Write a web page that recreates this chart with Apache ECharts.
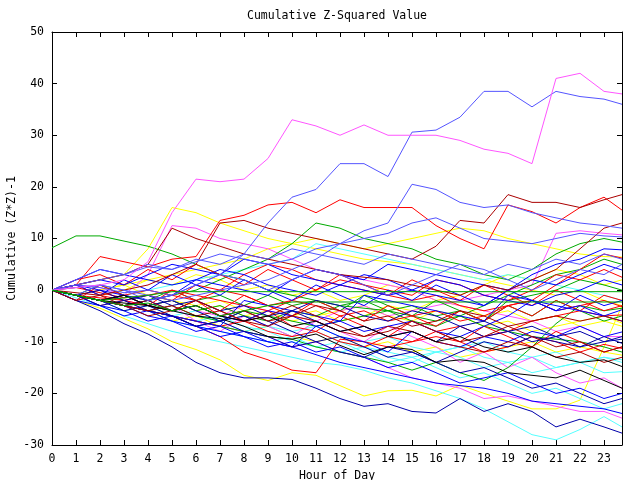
<!DOCTYPE html>
<html>
<head>
<meta charset="utf-8">
<script src="https://cdn.jsdelivr.net/npm/echarts@6/dist/echarts.min.js"></script>
<style>
html, body { margin: 0; padding: 0; background: #fff; }
#chart { width: 640px; height: 480px; }
</style>
</head>
<body>
<div id="chart"></div>
<script>
// x positions (hour of day), one value per hour plus the last sample
var hours = [0,1,2,3,4,5,6,7,8,9,10,11,12,13,14,15,16,17,18,19,20,21,22,23,23.75];

// cumulative values, one array per station
var pinkTop    = [0,0.5,1,2,5.5,15,21.5,21,21.5,25.5,33,31.8,30,32,30,30,30,29,27.3,26.5,24.5,41,42,38.5,38];
var slateTop   = [0,1,0.5,-0.5,0,-1,1,3,7,13,18,19.5,24.5,24.5,22,30.6,31,33.5,38.5,38.5,35.5,38.5,37.5,37,36];
var slateMid   = [0,0.5,1,0,-1,-2,-1,0,1,2,4,6,9,11.5,13,20.5,19.5,17,16,16.5,15,14,13,12.5,12];
var redHigh    = [0,1,6.5,5.5,4.5,6,6.5,13.5,14.5,16.5,17,15,17.5,16,16,16,12.5,10,8,16.5,15.2,13,16,18,15.5];
var maroonA    = [0,-0.5,-1,0,1,3,5,13,13.5,12,11,10,9,8,7,6,8.5,13.5,13,18.5,17,17,16,17.5,18.5];
var maroonB    = [0,1,2,3,5,12,10,8.5,7,6,5,4,3,2.5,2,1,0,-1,1,0,2,4,8,12,13];
var greenEarly = [8.2,10.5,10.5,9.5,8.5,7,5,3,2,0,-1,-2,-3,-3.5,-4,-5,-6,-5,-7,-8,-9,-9.5,-10,-11,-12];
var slateB     = [0,1,2,3,4.5,4,5.5,7,6,5,6,8,9,10,11,13,14,12,10,9.5,9,10,11,10.5,10.3];
var yellowHigh = [0,1,2,3,8,16,15,13,11.5,10,9,8,7,6,5.5,5,4,3,2,1,0,-1,0,-2,-3];
var yellowUp   = [0,-1,0,1,2,3,4,5,6,8,9,10,9,8,9,10,11,12,11.5,10,9,8,7,6.5,6.4];
var greenB     = [0,-1,-2,-3,-2,-1,0,2,4,6,9,13,12,10,9,8,6,5,3,2,4,7,9,10,9.3];
var blueA      = [0,2,4,3,2,1,2,4,3,1,0,-1,1,3,2,0,-1,-2,-3,0,3,5,6,8,7.8];
var redB       = [0,-1,-2,-1,0,-1,-2,0,3,5,4,2,1,0,-1,-2,-1,-3,-4,-3,-2,1,4,7,6.2];
var greenC     = [0,-1,-2,-3,-4,-3,-5,-6,-4,-5,-6,-7,-6,-5,-4,-6,-7,-5,-3,-1,1,3,4,6,5];
var blueB      = [0,1,0,-1,-2,-1,2,1,0,-1,2,4,3,2,5,4,3,2,1,0,2,1,3,5,3.9];
var redC       = [0,0.5,-0.5,-1.5,-1,-2,1,0,-1,-3,-2,0,2,1,0,-1,2,1,-1,-2,0,3,2,4,2.5];
var blueC      = [0,1,2,1,3,5,4,3,6,5,3,2,1,0,-1,0,2,1,-1,-2,-3,-1,0,2,1];
var blueD      = [0,-1,-2,-3,-2,-4,-3,-5,-6,-4,-5,-7,-6,-8,-7,-6,-8,-9,-7,-5,-2,-4,-3,-5,-3.8];
var redD       = [0,-1,-1.5,-2,-1,0,-1,-2,-3,-4,-2,-3,-5,-4,-6,-5,-4,-6,-5,-3,-2,-4,-3,-2,-3.2];
var redE       = [0,-1,-2,-3,-4,-5,-6,-7,-6,-8,-9,-8,-10,-11,-9,-10,-8,-7,-9,-8,-6,-5,-4,-5,-4.8];
var yellowC    = [0,-1,-2,-1,-3,-2,-4,-3,-5,-4,-6,-5,-4,-3,-5,-6,-4,-5,-7,-6,-8,-7,-6,-5,-6.4];
var blueE      = [0,-2,-3,-4,-6,-5,-7,-9,-8,-10,-11,-7,-9,-10,-12,-8,-10,-11,-9,-10,-8,-9,-7,-9,-8.1];
var navyA      = [0,-1,-3,-2,-4,-5,-7,-6,-8,-9,-11,-10,-12,-13,-11,-12,-14,-12,-10,-11,-9,-10,-11,-9,-10.3];
var redF       = [0,-1,-2,-3,-4,-5,-7,-9,-12,-13.5,-15.5,-16,-9.5,-10,-11,-10,-9,-10,-12,-11,-9,-10,-12,-10.5,-11.3];
var yellowLow  = [0,-2,-3.5,-5.5,-7.5,-10,-11.5,-13.5,-16.5,-17.5,-16,-16.5,-18.5,-20.5,-19.5,-19.4,-20.5,-18.4,-20,-21.5,-23,-23,-21.3,-11,-3];
var cyanLow    = [0,-1.5,-3,-5,-6.5,-8,-9,-10,-11,-12,-13,-14,-14.5,-15.5,-17,-18,-19.5,-21,-23,-25.5,-28,-29,-27,-24.5,-26.5];
var navyLow    = [0,-2,-4,-6.5,-8.5,-11,-14,-16,-17,-17,-17.3,-19,-21,-22.5,-22,-23.5,-23.8,-21,-23.5,-22,-23.5,-26.5,-25,-26.5,-27.7];
var pinkLow    = [0,-1,-2,-3,-4,-5,-6,-7,-8,-9,-11,-10,-12,-13,-15,-17,-18,-19,-21,-20.5,-21.5,-22.5,-23.5,-23.5,-24.8];
var blackA     = [0,-1,-2,-2.5,-3,-4,-5,-5.5,-7,-9,-9.5,-8.5,-10.7,-12.5,-11,-11.5,-14,-13.5,-14,-16,-16.5,-17,-15.5,-17.5,-19];
var greenLow   = [0,-1,-2,-3,-4,-5,-6,-7,-8,-9,-9.5,-11,-12,-13,-14,-15.5,-14,-16,-17.5,-15,-11,-6.5,-3,-4,-3.5];
var cyanB      = [0,-1,-2,-3,-2,-4,-5,-6,-5,-7,-8,-7,-9,-10,-9,-11,-12,-11,-10,-12,-13,-12,-14,-13,-13.5];
var blackB     = [0,-1,-2,-1,-3,-4,-3,-5,-6,-5,-7,-6,-8,-7,-9,-8,-10,-9,-11,-12,-11,-13,-14,-13.5,-14.8];
var cyanC      = [0,-1,-2,-3,-4,-5,-6,-5,-7,-8,-10,-11,-12,-11,-13,-14,-12,-13,-15,-14,-16,-15,-14,-16,-15.8];
var blueF      = [0,-1,-2,-3,-5,-6,-7,-8,-9,-10,-11,-12.5,-14,-15,-16,-17,-18,-18.5,-19,-20,-21.5,-22,-22.5,-23,-23.9];
var yellowD    = [0,-1,-3,-2,-4,-6,-5,-7,-8,-7,-9,-10,-9,-11,-10,-12,-11,-13,-12,-11,-10,-12,-11,-12,-12.6];
var pinkB      = [0,-1,0,-2,-3,-2,-4,-5,-3,-4,-5,-6,-4,-3,-5,-4,-3,-2,-1,0,1,11,11.5,11,10.7];
var pinkC      = [0,1,0.5,-1,3,12.5,12,10,9,8,6,4,3,2,1,0,-2,-3,-4,-5,-6,-8,-7,-9,-9];
var cyanD      = [0,-1,-2,-1,0,1,2,3,4,5,6,9,8,7,6,5,4,3,2,3,2,1,0,-1,-2];
var maroonC    = [0,-1,-2,-3,-2,-4,-3,-5,-4,-6,-5,-3,-4,-6,-5,-7,-6,-4,-5,-7,-6,-5,-6,-5,-6];
var navyB      = [0,-1,-2,-1,-3,-2,-4,-6,-5,-7,-4,-6,-8,-7,-9,-8,-10,-7,-9,-8,-10,-9,-11,-10,-9.5];
var redG       = [0,1,-1,-2,-3,-4,-2,-5,-6,-4,-7,-8,-5,-7,-9,-6,-8,-10,-7,-9,-11,-8,-10,-12,-11];
var blueG      = [0,-1,-2,-3,-4,-5,-6,-7,-2,-3,-4,-5,-6,-1,-2,-3,-4,-5,-6,-1,-2,-3,-4,-5,-6];
var cyanE      = [0,-1,-2,-3,-4,-6,-7,-8,-9,-10,-9,-8,-10,-11,-12,-13,-12,-11,-13,-14,-13,-15,-14,-13,-14];
var yellowE    = [0,-1,0,1,-1,-2,-3,-2,-4,-3,-5,-4,-6,-5,-3,-4,-2,-3,-5,-4,-6,-5,-7,-6,-7];
var greenD     = [0,-1,-2,-1,-3,-2,-4,-3,-5,-6,-4,-5,-3,-2,-4,-3,-5,-4,-6,-2,-1,0,2,1,0];
var maroonD    = [0,-1,-2,-3,-4,-3,-5,-4,-6,-7,-5,-6,-8,-9,-7,-8,-10,-11,-12,-10,-11,-13,-12,-14,-13];
var slateC     = [0,2,4,3,5,4,6,5,7,6,8,7,6,5,7,6,5,4,3,5,4,6,5,7,6];
var redH       = [0,-2,1,-1,-3,0,-2,-4,-1,-3,-5,-2,-4,-6,-3,-5,-7,-4,-6,-3,-5,-2,-4,-1,-2];
var blueH      = [0,1,-1,2,0,3,1,-1,2,0,-2,1,-1,-3,0,-2,1,-1,-3,0,-2,-4,-1,-3,-2];
var greenE     = [0,-1,1,-1,-2,0,-2,-1,-3,-1,-3,-2,-4,-1,-3,-5,-2,-4,-6,-3,-5,-2,-4,-6,-5];
var pinkD      = [0,-1,-3,-2,-4,-3,-6,-8,-5,-7,-9,-6,-8,-10,-7,-9,-11,-14,-12,-15,-13,-16,-18,-17,-19];
var cyanF      = [0,-1,-2,-4,-3,-5,-4,-6,-8,-7,-9,-11,-10,-12,-14,-13,-15,-17,-16,-18,-20,-19,-21,-23,-22];
var yellowF    = [0,1,-1,0,2,1,3,2,0,1,-1,0,-2,-1,1,0,-2,-1,1,3,2,4,3,1,2];
var navyC      = [0,-1,-2,-4,-3,-5,-7,-6,-4,-6,-8,-10,-9,-11,-13,-12,-14,-16,-15,-17,-19,-18,-20,-22,-21];
var maroonE    = [0,-2,-1,-3,-5,-4,-2,-4,-6,-5,-3,-5,-7,-9,-8,-6,-8,-10,-9,-7,-9,-11,-10,-12,-11];
var slateD     = [0,-1,1,0,-2,-1,1,3,2,0,2,4,3,1,-1,1,3,5,4,2,0,2,4,3,5];
var navyD      = [0,-1,0,-2,-1,-3,-2,-4,-3,-5,-4,-2,-3,-5,-6,-4,-5,-7,-6,-8,-7,-9,-8,-10,-9];
var redI       = [0,2,3,1,4,2,5,3,1,4,2,0,3,1,-1,2,0,-2,1,-1,-3,0,-2,-4,-3];
var blueI      = [0,-1,-3,-5,-4,-6,-8,-7,-9,-11,-10,-12,-11,-13,-15,-14,-16,-18,-17,-16,-18,-20,-19,-21,-20];
var greenFlatA = [0,-1,-2,-1.5,-1,-0.3,-0.3,-0.3,-0.3,-0.3,-0.3,-0.3,-0.3,-0.3,-0.3,-0.3,-0.3,-0.3,-0.3,-0.3,-0.3,-0.3,-0.3,-0.3,-0.3];
var greenFlatB = [0,-1,-2,-3,-2.5,-4,-3,-5,-4,-3,-2.3,-2.3,-2.3,-2.3,-2.3,-2.3,-2.3,-2.3,-2.3,-2.3,-2.3,-2.3,-2.3,-2.3,-2.3];

var red = '#ff0000', blue = '#0000ff', green = '#00aa00', pink = '#ff55ff',
    cyan = '#55ffff', yellow = '#ffff00', black = '#000000', maroon = '#aa0000',
    slate = '#5555ff', navy = '#0000aa';

var lines = [
    [yellowHigh, yellow], [yellowUp, yellow], [yellowC, yellow], [yellowD, yellow], [yellowE, yellow], [yellowF, yellow], [yellowLow, yellow],
    [cyanD, cyan], [cyanB, cyan], [cyanC, cyan], [cyanE, cyan], [cyanF, cyan], [cyanLow, cyan],
    [pinkC, pink], [pinkB, pink], [pinkD, pink], [pinkLow, pink],
    [greenB, green], [greenC, green], [greenD, green], [greenE, green], [greenLow, green], [greenEarly, green],
    [redB, red], [redC, red], [redD, red], [redE, red], [redF, red], [redG, red], [redH, red], [redI, red], [redHigh, red],
    [blueA, blue], [blueB, blue], [blueC, blue], [blueD, blue], [blueE, blue], [blueF, blue], [blueG, blue], [blueH, blue], [blueI, blue],
    [navyA, navy], [navyB, navy], [navyC, navy], [navyD, navy], [navyLow, navy],
    [maroonA, maroon], [maroonB, maroon], [maroonC, maroon], [maroonD, maroon], [maroonE, maroon],
    [slateB, slate], [slateC, slate], [slateD, slate], [slateMid, slate], [slateTop, slate],
    [blackA, black], [blackB, black],
    [pinkTop, pink],
    [greenFlatA, green], [greenFlatB, green]
];

var font = 'DejaVu Sans Mono';

var series = lines.map(function (item, i) {
    return {
        name: 'station' + (i + 1),
        type: 'line',
        symbol: 'none',
        silent: true,
        lineStyle: { width: 1, color: item[1] },
        itemStyle: { color: item[1] },
        data: hours.map(function (h, k) {
            return [h, item[0][k]];
        })
    };
});

function hourLabel(v) {
    return v % 1 === 0 ? String(v) : '';
}

var myChart = echarts.init(document.getElementById('chart'));
var option = {
    animation: false,
    backgroundColor: '#fff',
    graphic: [{
        type: 'text',
        x: 337,
        y: 16,
        style: {
            text: 'Cumulative Z-Squared Value',
            font: '11.5px "DejaVu Sans Mono"',
            fill: '#000',
            textAlign: 'center',
            textVerticalAlign: 'middle'
        }
    }],
    grid: { left: 52, right: 18, top: 32, bottom: 35, outerBoundsMode: 'none', containLabel: false },
    xAxis: [
        {
            type: 'value',
            min: 0,
            max: 23.75,
            interval: 1,
            name: 'Hour of Day',
            nameLocation: 'middle',
            nameGap: 21,
            nameTextStyle: { fontFamily: font, fontSize: 11.5, color: '#000' },
            axisLine: { show: true, onZero: false, lineStyle: { color: '#000' } },
            axisTick: { inside: true, length: 5, lineStyle: { color: '#000' } },
            axisLabel: { color: '#000', fontFamily: font, fontSize: 11.5, margin: 8, formatter: hourLabel },
            splitLine: { show: false }
        },
        {
            type: 'value',
            position: 'top',
            min: 0,
            max: 23.75,
            interval: 1,
            axisLine: { show: true, onZero: false, lineStyle: { color: '#000' } },
            axisTick: { inside: true, length: 5, lineStyle: { color: '#000' } },
            axisLabel: { show: false },
            splitLine: { show: false }
        }
    ],
    yAxis: [
        {
            type: 'value',
            min: -30,
            max: 50,
            interval: 10,
            name: 'Cumulative (Z*Z)-1',
            nameLocation: 'middle',
            nameRotate: 90,
            nameGap: 34,
            nameMoveOverlap: false,
            nameTextStyle: { fontFamily: font, fontSize: 11.5, color: '#000' },
            axisLine: { show: true, onZero: false, lineStyle: { color: '#000' } },
            axisTick: { inside: true, length: 5, lineStyle: { color: '#000' } },
            axisLabel: { color: '#000', fontFamily: font, fontSize: 11.5, margin: 8 },
            splitLine: { show: false }
        },
        {
            type: 'value',
            position: 'right',
            min: -30,
            max: 50,
            interval: 10,
            axisLine: { show: true, onZero: false, lineStyle: { color: '#000' } },
            axisTick: { inside: true, length: 5, lineStyle: { color: '#000' } },
            axisLabel: { show: false },
            splitLine: { show: false }
        }
    ],
    series: series
};
myChart.setOption(option);
</script>
</body>
</html>
